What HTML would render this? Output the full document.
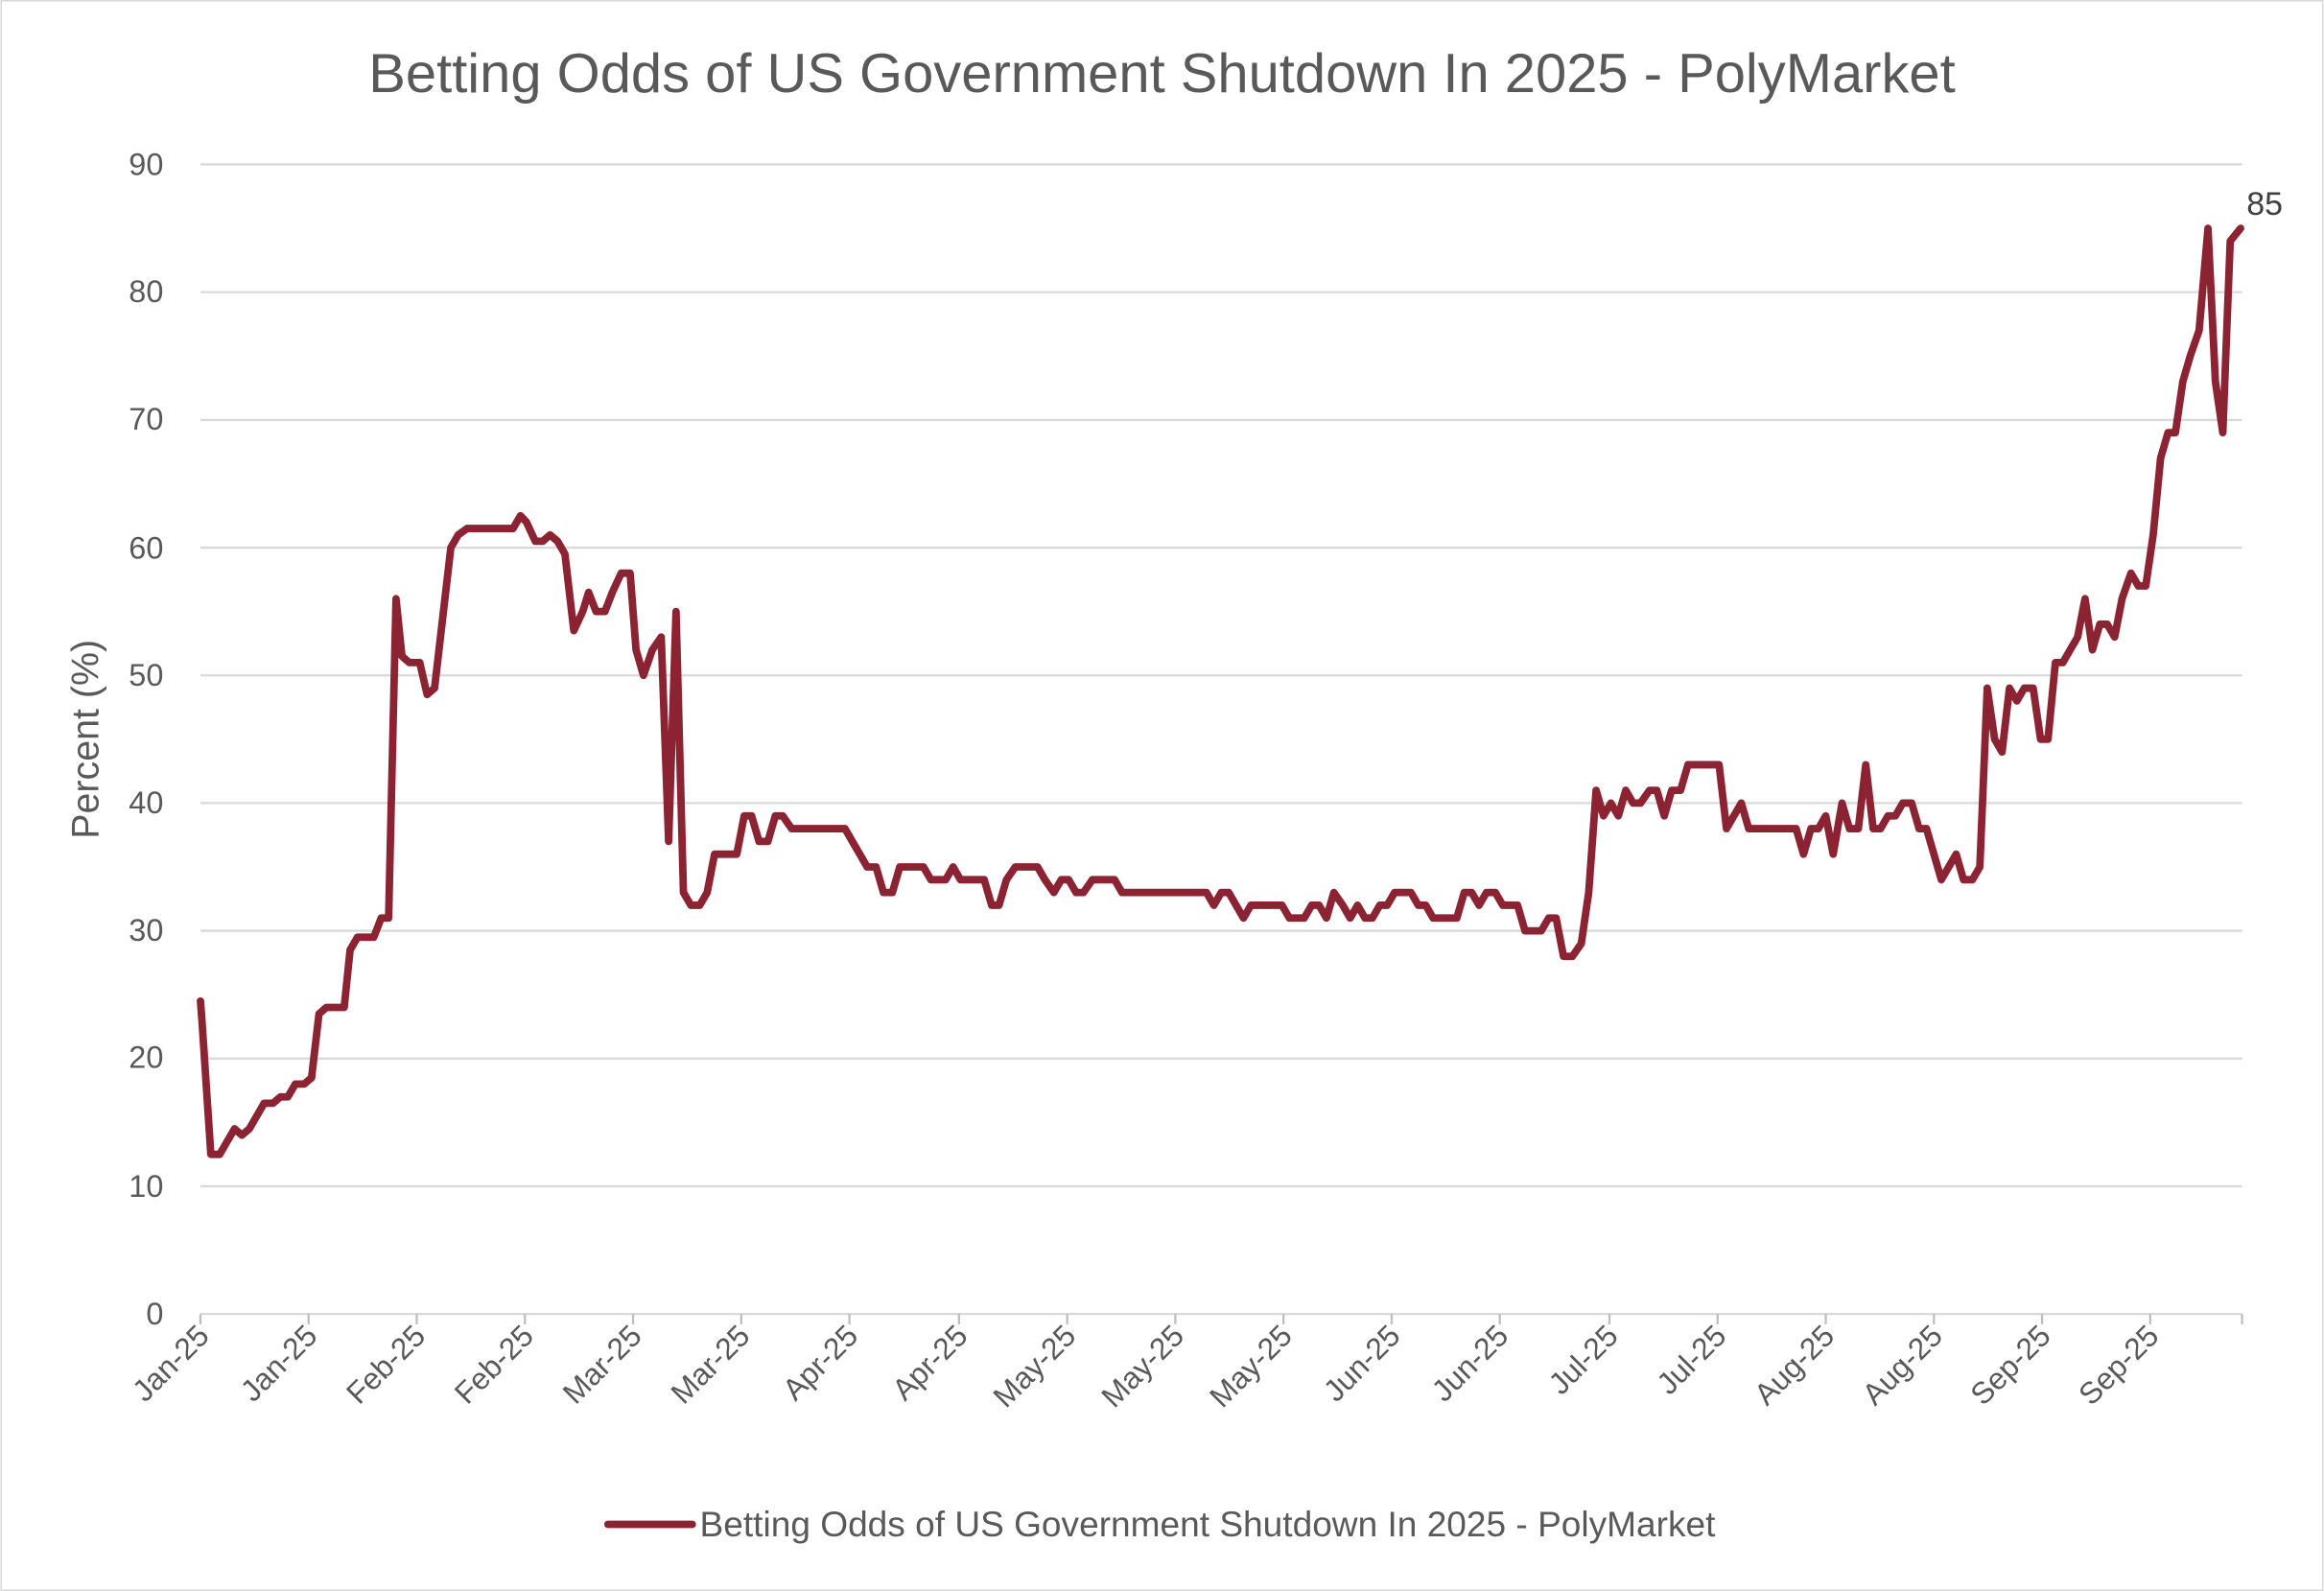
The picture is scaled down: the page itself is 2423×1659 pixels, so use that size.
<!DOCTYPE html>
<html><head><meta charset="utf-8"><style>html,body{margin:0;padding:0;background:#fff}svg{display:block}text{font-family:"Liberation Sans",sans-serif}</style></head><body>
<svg width="2423" height="1659" viewBox="0 0 1568 1074" xmlns="http://www.w3.org/2000/svg">
<rect x="0.5" y="0.5" width="1567" height="1073" fill="#fff" stroke="#d9d9d9"/>
<text x="784" y="62" text-anchor="middle" font-size="37.5" fill="#595959">Betting Odds of US Government Shutdown In 2025 - PolyMarket</text>
<g stroke="#d9d9d9" stroke-width="1.5">
<line x1="135" x2="1513" y1="111" y2="111"/><line x1="135" x2="1513" y1="197.2" y2="197.2"/><line x1="135" x2="1513" y1="283.5" y2="283.5"/><line x1="135" x2="1513" y1="369.7" y2="369.7"/><line x1="135" x2="1513" y1="455.9" y2="455.9"/><line x1="135" x2="1513" y1="542.1" y2="542.1"/><line x1="135" x2="1513" y1="628.3" y2="628.3"/><line x1="135" x2="1513" y1="714.6" y2="714.6"/><line x1="135" x2="1513" y1="800.8" y2="800.8"/><line x1="135" x2="1513" y1="887" y2="887"/>
</g>
<g stroke="#bfbfbf" stroke-width="1.5">
<line x1="135" x2="135" y1="887" y2="894"/><line x1="208" x2="208" y1="887" y2="894"/><line x1="281" x2="281" y1="887" y2="894"/><line x1="354" x2="354" y1="887" y2="894"/><line x1="427" x2="427" y1="887" y2="894"/><line x1="500" x2="500" y1="887" y2="894"/><line x1="573" x2="573" y1="887" y2="894"/><line x1="647" x2="647" y1="887" y2="894"/><line x1="720" x2="720" y1="887" y2="894"/><line x1="793" x2="793" y1="887" y2="894"/><line x1="866" x2="866" y1="887" y2="894"/><line x1="939" x2="939" y1="887" y2="894"/><line x1="1012" x2="1012" y1="887" y2="894"/><line x1="1086" x2="1086" y1="887" y2="894"/><line x1="1159" x2="1159" y1="887" y2="894"/><line x1="1232" x2="1232" y1="887" y2="894"/><line x1="1305" x2="1305" y1="887" y2="894"/><line x1="1378" x2="1378" y1="887" y2="894"/><line x1="1451" x2="1451" y1="887" y2="894"/><line x1="1513" x2="1513" y1="887" y2="894"/>
</g>
<g font-size="21" fill="#595959" text-anchor="end">
<text x="110" y="118">90</text><text x="110" y="204">80</text><text x="110" y="290">70</text><text x="110" y="377">60</text><text x="110" y="463">50</text><text x="110" y="549">40</text><text x="110" y="635">30</text><text x="110" y="721">20</text><text x="110" y="808">10</text><text x="110" y="894">0</text>
</g>
<text transform="translate(66,499) rotate(-90)" text-anchor="middle" font-size="25.5" fill="#595959">Percent (%)</text>
<g font-size="20.5" fill="#595959" text-anchor="end">
<text transform="translate(142,903) rotate(-45)">Jan-25</text>
<text transform="translate(215,903) rotate(-45)">Jan-25</text>
<text transform="translate(288,903) rotate(-45)">Feb-25</text>
<text transform="translate(361,903) rotate(-45)">Feb-25</text>
<text transform="translate(434,903) rotate(-45)">Mar-25</text>
<text transform="translate(507,903) rotate(-45)">Mar-25</text>
<text transform="translate(580,903) rotate(-45)">Apr-25</text>
<text transform="translate(654,903) rotate(-45)">Apr-25</text>
<text transform="translate(727,903) rotate(-45)">May-25</text>
<text transform="translate(800,903) rotate(-45)">May-25</text>
<text transform="translate(873,903) rotate(-45)">May-25</text>
<text transform="translate(946,903) rotate(-45)">Jun-25</text>
<text transform="translate(1019,903) rotate(-45)">Jun-25</text>
<text transform="translate(1093,903) rotate(-45)">Jul-25</text>
<text transform="translate(1166,903) rotate(-45)">Jul-25</text>
<text transform="translate(1239,903) rotate(-45)">Aug-25</text>
<text transform="translate(1312,903) rotate(-45)">Aug-25</text>
<text transform="translate(1385,903) rotate(-45)">Sep-25</text>
<text transform="translate(1458,903) rotate(-45)">Sep-25</text>
</g>
<g transform="translate(0,887) scale(1,-8.622)">
<polyline fill="none" stroke="#8B2332" stroke-width="7.8" stroke-linejoin="round" stroke-linecap="round" vector-effect="non-scaling-stroke" points="135,24.5 136,23 142,12.5 148,12.5 153,13.5 158,14.5 163,14 168,14.5 173,15.5 178,16.5 184,16.5 189,17 194,17 199,18 205,18 210,18.5 215,23.5 220,24 232,24 236,28.5 241,29.5 252,29.5 257,31 262,31 267,56 271,51.5 276,51 283,51 288,48.5 293,49 299,55 304,60 309,61 315,61.5 346,61.5 351,62.5 355,62 361,60.5 366,60.5 371,61 376,60.5 381,59.5 387,53.5 393,55 397,56.5 402,55 408,55 413,56.5 419,58 425,58 429,52 434,50 440,52 446,53 451,37 456,55 461,33 466,32 472,32 477,33 482,36 497,36 502,39 507,39 512,37 518,37 523,39 528,39 534,38 570,38 575,37 580,36 585,35 591,35 596,33 602,33 607,35 623,35 628,34 638,34 643,35 648,34 664,34 669,32 674,32 679,34 685,35 700,35 705,34 711,33 716,34 721,34 726,33 731,33 737,34 752,34 757,33 814,33 819,32 824,33 829,33 834,32 839,31 844,32 860,32 865,32 870,31 880,31 885,32 890,32 895,31 900,33 906,32 911,31 916,32 921,31 926,31 931,32 936,32 941,33 952,33 957,32 962,32 967,31 983,31 988,33 993,33 998,32 1003,33 1009,33 1014,32 1024,32 1029,30 1040,30 1045,31 1050,31 1055,28 1061,28 1067,29 1072,33 1077,41 1082,39 1087,40 1092,39 1097,41 1102,40 1107,40 1113,41 1118,41 1123,39 1128,41 1134,41 1139,43 1160,43 1165,38 1170,39 1175,40 1180,38 1212,38 1217,36 1222,38 1227,38 1232,39 1237,36 1243,40 1248,38 1254,38 1259,43 1264,38 1269,38 1274,39 1279,39 1284,40 1290,40 1295,38 1300,38 1305,36 1310,34 1315,35 1320,36 1325,34 1331,34 1336,35 1341,49 1346,45 1351,44 1356,49 1361,48 1366,49 1372,49 1377,45 1382,45 1387,51 1392,51 1397,52 1402,53 1407,56 1412,52 1417,54 1422,54 1427,53 1432,56 1438,58 1443,57 1448,57 1453,61 1458,67 1463,69 1468,69 1473,73 1478,75 1484,77 1490,85 1495,73 1500,69 1505,84 1512,85"/>
</g>
<text x="1516" y="145" font-size="22" fill="#404040">85</text>
<line x1="410" x2="467" y1="1029" y2="1029" stroke="#8B2332" stroke-width="5" stroke-linecap="round"/>
<text x="472" y="1037" font-size="24" fill="#595959">Betting Odds of US Government Shutdown In 2025 - PolyMarket</text>
</svg>
</body></html>
